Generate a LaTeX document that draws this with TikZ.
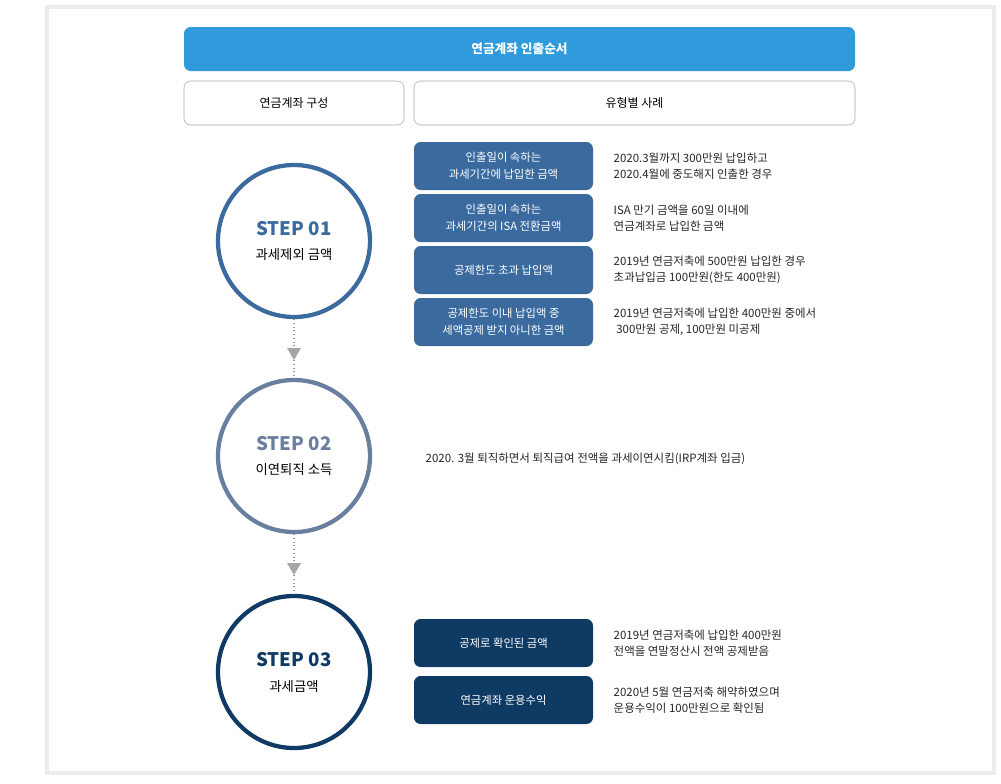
\documentclass[tikz,border=0pt]{standalone}
\usepackage{fontspec}
\setmainfont{Noto Sans CJK KR}
\begin{document}
\begin{tikzpicture}[x=0.75pt,y=-0.75pt,
  blk/.style={fill=#1,rounded corners=5pt,draw=none},
  hdr/.style={draw=gray!70,rounded corners=5pt,fill=white},
  desc/.style={anchor=west,align=left,font=\fontsize{8.6}{12}\selectfont,text=black!85},
  ring/.style={circle,draw=#1,line width=3.2pt,minimum size=114pt,inner sep=0pt,fill=white},
  con/.style={draw=gray!80,dotted,line width=0.8pt},
  tri/.style={fill=gray!70,draw=none}]
\definecolor{c1}{HTML}{3A6A9E}
\definecolor{c2}{HTML}{6A7FA0}
\definecolor{c3}{HTML}{0F3A64}
\definecolor{top}{HTML}{2F9BDC}
\useasboundingbox (0,0) rectangle (1001,783);
\draw[gray!15,line width=3pt] (47,7) rectangle (994,773);
% headers
\path[fill=top,rounded corners=5pt] (184,27) rectangle (855,71);
\node[text=white,font=\bfseries\fontsize{9.5}{11}\selectfont] (title) at (519.5,49) {연금계좌 인출순서};
\draw[hdr] (184,81) rectangle (404,125);
\node[font=\fontsize{9}{11}\selectfont] (h1) at (294,103) {연금계좌 구성};
\draw[hdr] (414,81) rectangle (855,125);
\node[font=\fontsize{9}{11}\selectfont] (h2) at (634.5,103) {유형별 사례};
% connectors
\node[ring=c1] (s1) at (294,241) {};
\node[ring=c2] (s2) at (294,456) {};
\node[ring=c3] (s3) at (294,672) {};
\draw[con] (s1.south) -- (s2.north);
\draw[con] (s2.south) -- (s3.north);
\fill[tri] (287,348) -- (301,348) -- (294,360) -- cycle;
\fill[tri] (287,563) -- (301,563) -- (294,575) -- cycle;
\foreach \n/\c/\t/\s in {s1/c1/01/과세제외 금액, s2/c2/02/이연퇴직 소득, s3/c3/03/과세금액}{
  \node[text=\c,font=\bfseries\fontsize{14}{16}\selectfont] at ([yshift=9pt]\n.center) {STEP \t};
  \node[font=\fontsize{10}{12}\selectfont] at ([yshift=-10.5pt]\n.center) {\s};
}
% step1 boxes
\foreach \y/\t/\d in {
 142/{인출일이 속하는\\과세기간에 납입한 금액}/{2020.3월까지 300만원 납입하고\\2020.4월에 중도해지 인출한 경우},
 194/{인출일이 속하는\\과세기간의 ISA 전환금액}/{ISA 만기 금액을 60일 이내에\\연금계좌로 납입한 금액},
 246/{공제한도 초과 납입액}/{2019년 연금저축에 500만원 납입한 경우\\초과납입금 100만원(한도 400만원)},
 298/{공제한도 이내 납입액 중\\세액공제 받지 아니한 금액}/{2019년 연금저축에 납입한 400만원 중에서\\\ 300만원 공제, 100만원 미공제}}{
  \path[blk=c1] (414,\y) rectangle (593,\y+48);
  \node[text=white,align=center,font=\fontsize{8.5}{13}\selectfont] at (503.5,\y+24) {\t};
  \node[desc] at (609,\y+24) {\d};
}
\node[desc] (e2) at (421,459) {2020. 3월 퇴직하면서 퇴직급여 전액을 과세이연시킴(IRP계좌 입금)};
\foreach \y/\t/\d in {
 619/{공제로 확인된 금액}/{2019년 연금저축에 납입한 400만원\\전액을 연말정산시 전액 공제받음},
 676/{연금계좌 운용수익}/{2020년 5월 연금저축 해약하였으며\\운용수익이 100만원으로 확인됨}}{
  \path[blk=c3] (414,\y) rectangle (593,\y+48);
  \node[text=white,font=\fontsize{8.5}{13}\selectfont] at (503.5,\y+24) {\t};
  \node[desc] at (609,\y+24) {\d};
}
\end{tikzpicture}
\end{document}
